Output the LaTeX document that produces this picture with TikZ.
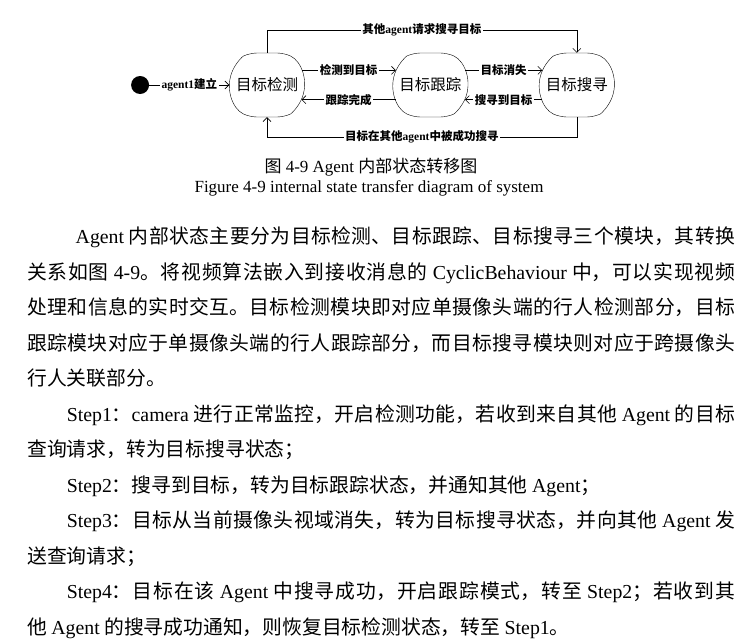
\documentclass[tikz,border=0pt]{standalone}
\usepackage{fontspec}
\setmainfont{Liberation Serif}
\newfontfamily\cjk{Noto Sans CJK SC}
\usetikzlibrary{positioning,shapes.misc,arrows.meta}
\XeTeXlinebreaklocale "zh"
\XeTeXlinebreakskip=0pt plus 3pt
\newcommand{\lat}[1]{{\rmfamily #1}}
\tikzstyle{state} = [draw, rounded rectangle, rounded rectangle arc length=130, rounded corners=7pt, minimum width=77pt, minimum height=64pt, inner sep=1pt, font=\cjk\fontsize{15.5}{17}\selectfont]
\tikzstyle{connector} = [line width=0.6pt, ->, >={Straight Barb[length=4pt,width=8pt]}]
\tikzstyle{tag} = [fill=white, inner sep=1.5pt, font=\cjk\bfseries\fontsize{11.5}{13}\selectfont]

\begin{document}
\begin{tikzpicture}[x=1pt,y=-1pt]
\useasboundingbox (0,0) rectangle (749,640);
                \node (1) [state] at (267,85) {目标检测};
                \node (0) [circle, fill=black, minimum size=18pt, inner sep=0pt, left=80pt of 1] {};
                \node (2) [state, right=88pt of 1] {目标跟踪};
                \node (3) [state, right=71pt of 2] {目标搜寻};

                \draw [connector] (0) -- node[tag] {\lat{agent1}建立} (1);
                \draw [connector] (1.23) -- node[tag] {检测到目标} (2.157);
                \draw [connector] (2.-157) -- node[tag] {跟踪完成} (1.-23);
                \draw [connector] (2.23) -- node[tag] {目标消失} (3.157);
                \draw [connector] (3.-157) -- node[tag] {搜寻到目标} (2.-23);
                \draw [connector] (1.north) -- ++(0,-23) -| node[tag, pos=0.25] {其他\lat{agent}请求搜寻目标} (3.north);
                \draw [connector] (3.south) -- ++(0,20) -| node[tag, pos=0.25] {目标在其他\lat{agent}中被成功搜寻} (1.south);

                \node (cap) at (371,167) [font=\fontsize{17}{19}\selectfont] {{\cjk 图} 4-9 Agent {\cjk 内部状态转移图}};
                \node (capen) at (369,188) [font=\fontsize{17}{19}\selectfont] {Figure 4-9 internal state transfer diagram of system};

                \node (body) at (27,227) [anchor=north west, text width=708pt, align=justify, inner sep=0pt, font=\cjk\fontsize{19.8}{35.5}\selectfont] {%
\hspace*{2.45em}\lat{Agent} 内部状态主要分为目标检测、目标跟踪、目标搜寻三个模块，其转换\linebreak%
关系如图 \lat{4-9}。将视频算法嵌入到接收消息的 \lat{CyclicBehaviour} 中，可以实现视频\linebreak%
处理和信息的实时交互。目标检测模块即对应单摄像头端的行人检测部分，目标\linebreak%
跟踪模块对应于单摄像头端的行人跟踪部分，而目标搜寻模块则对应于跨摄像头\linebreak%
行人关联部分。\par
\hspace*{2em}\lat{Step1}：\lat{camera} 进行正常监控，开启检测功能，若收到来自其他 \lat{Agent} 的目标\linebreak%
查询请求，转为目标搜寻状态；\par
\hspace*{2em}\lat{Step2}：搜寻到目标，转为目标跟踪状态，并通知其他 \lat{Agent}；\par
\hspace*{2em}\lat{Step3}：目标从当前摄像头视域消失，转为目标搜寻状态，并向其他 \lat{Agent} 发\linebreak%
送查询请求；\par
\hspace*{2em}\lat{Step4}：目标在该 \lat{Agent} 中搜寻成功，开启跟踪模式，转至 \lat{Step2}；若收到其\linebreak%
他 \lat{Agent} 的搜寻成功通知，则恢复目标检测状态，转至 \lat{Step1}。};
            \end{tikzpicture}
\end{document}
